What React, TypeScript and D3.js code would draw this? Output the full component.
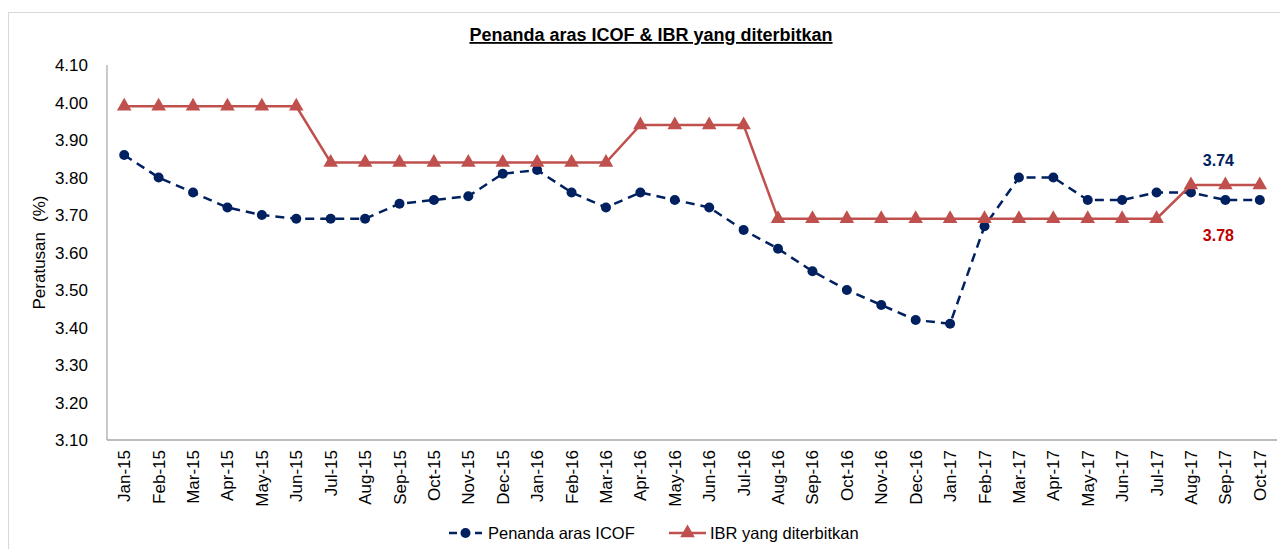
import React from 'react';
import * as d3 from 'd3';

const months = [
  'Jan-15', 'Feb-15', 'Mar-15', 'Apr-15', 'May-15', 'Jun-15', 'Jul-15', 'Aug-15', 'Sep-15', 'Oct-15', 'Nov-15', 'Dec-15',
  'Jan-16', 'Feb-16', 'Mar-16', 'Apr-16', 'May-16', 'Jun-16', 'Jul-16', 'Aug-16', 'Sep-16', 'Oct-16', 'Nov-16', 'Dec-16',
  'Jan-17', 'Feb-17', 'Mar-17', 'Apr-17', 'May-17', 'Jun-17', 'Jul-17', 'Aug-17', 'Sep-17', 'Oct-17',
];

const icof = [
  3.86, 3.80, 3.76, 3.72, 3.70, 3.69, 3.69, 3.69, 3.73, 3.74, 3.75, 3.81,
  3.82, 3.76, 3.72, 3.76, 3.74, 3.72, 3.66, 3.61, 3.55, 3.50, 3.46, 3.42,
  3.41, 3.67, 3.80, 3.80, 3.74, 3.74, 3.76, 3.76, 3.74, 3.74,
];

const ibr = [
  3.99, 3.99, 3.99, 3.99, 3.99, 3.99, 3.84, 3.84, 3.84, 3.84, 3.84, 3.84,
  3.84, 3.84, 3.84, 3.94, 3.94, 3.94, 3.94, 3.69, 3.69, 3.69, 3.69, 3.69,
  3.69, 3.69, 3.69, 3.69, 3.69, 3.69, 3.69, 3.78, 3.78, 3.78,
];

const yTicks = [3.1, 3.2, 3.3, 3.4, 3.5, 3.6, 3.7, 3.8, 3.9, 4.0, 4.1];

const NAVY = '#002060';
const RED = '#C0504D';
const FONT = '"Liberation Sans", Arial, sans-serif';

export default function App() {
  const width = 1280;
  const height = 549;
  const margin = { top: 65, right: 3, bottom: 109, left: 107 };

  const x = d3.scaleBand<string>().domain(months).range([margin.left, width - margin.right]);
  const cx = (m: string) => (x(m) ?? 0) + x.bandwidth() / 2;
  const y = d3.scaleLinear().domain([3.1, 4.1]).range([height - margin.bottom, margin.top]);

  const line = d3.line<number>()
    .x((_, i) => cx(months[i]))
    .y((d) => y(d));

  const tri = d3.symbol().type(d3.symbolTriangle).size(92)();

  const last = months.length - 1;
  // data labels sit slightly left of the Sep-17 point
  const labelX = cx(months[last - 1]) - 7;

  return (
    <svg
      width={width}
      height={height}
      style={{ position: 'absolute', left: 0, top: 0, background: '#fff', fontFamily: FONT }}
    >
      <rect x={8.5} y={12.5} width={1300} height={600} fill="#fff" stroke="#d9d9d9" />

      {/* title */}
      <text
        x={651}
        y={41}
        textAnchor="middle"
        fontSize={18}
        fontWeight="bold"
        textDecoration="underline"
        fill="#000"
      >
        Penanda aras ICOF &amp; IBR yang diterbitkan
      </text>

      {/* axes */}
      <line x1={margin.left} x2={margin.left} y1={y(4.1)} y2={y(3.1)} stroke="#a6a6a6" strokeWidth={1.2} />
      <line x1={margin.left} x2={width - margin.right} y1={y(3.1)} y2={y(3.1)} stroke="#a6a6a6" strokeWidth={1.5} />

      {yTicks.map((t) => (
        <text key={t} x={88} y={y(t) + 6} textAnchor="end" fontSize={17} fill="#000">
          {t.toFixed(2)}
        </text>
      ))}

      {months.map((m) => (
        <text
          key={m}
          transform={`translate(${cx(m) + 6},${y(3.1) + 10}) rotate(-90)`}
          textAnchor="end"
          fontSize={17}
          fill="#000"
        >
          {m}
        </text>
      ))}

      <text transform={`translate(45,${(y(4.1) + y(3.1)) / 2}) rotate(-90)`} textAnchor="middle" fontSize={17} fill="#000">
        <tspan>Peratusan</tspan>
        <tspan dx={10}>(%)</tspan>
      </text>

      {/* ICOF series */}
      <path d={line(icof) ?? ''} fill="none" stroke={NAVY} strokeWidth={2.5} strokeDasharray="9,6" />
      {icof.map((v, i) => (
        <circle key={i} cx={cx(months[i])} cy={y(v)} r={5} fill={NAVY} />
      ))}

      {/* IBR series */}
      <path d={line(ibr) ?? ''} fill="none" stroke={RED} strokeWidth={2.5} />
      {ibr.map((v, i) => (
        <path key={i} d={tri ?? ''} transform={`translate(${cx(months[i])},${y(v)})`} fill={RED} />
      ))}

      {/* end labels */}
      <text x={labelX} y={y(icof[last - 1]) - 34} textAnchor="middle" fontSize={16} fontWeight="bold" fill={NAVY}>
        {icof[last - 1].toFixed(2)}
      </text>
      <text x={labelX} y={y(ibr[last - 1]) + 56} textAnchor="middle" fontSize={16} fontWeight="bold" fill="#C00000">
        {ibr[last - 1].toFixed(2)}
      </text>

      {/* legend */}
      <g transform="translate(449,533)">
        <line x1={0} x2={33} y1={0} y2={0} stroke={NAVY} strokeWidth={2.5} strokeDasharray="8,5" />
        <circle cx={16.5} cy={0} r={5} fill={NAVY} />
        <text x={39} y={6} fontSize={16.5} fill="#000">Penanda aras ICOF</text>
      </g>
      <g transform="translate(669,533)">
        <line x1={0} x2={37} y1={0} y2={0} stroke={RED} strokeWidth={2.5} />
        <path d={tri ?? ''} transform="translate(18.5,0)" fill={RED} />
        <text x={41} y={6} fontSize={16.5} fill="#000">IBR yang diterbitkan</text>
      </g>
    </svg>
  );
}
